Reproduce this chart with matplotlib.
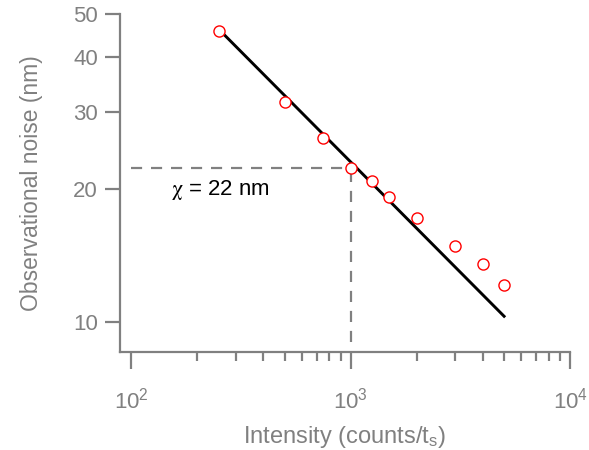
import numpy as np
import matplotlib.pyplot as plt

plt.rcParams['font.family'] = ['Liberation Sans', 'DejaVu Sans']
plt.rcParams['mathtext.fontset'] = 'stix'

# measured noise vs intensity
intensity = [250, 500, 750, 1000, 1250, 1500, 2000, 3000, 4000, 5000]
noise = [45.8, 31.6, 26.2, 22.3, 20.9, 19.2, 17.2, 14.9, 13.5, 12.1]

# fitted line end points
fit_x = [250, 5000]
fit_y = [46.2, 10.3]

# chosen operating point
chi_x = 1000
chi_y = 22.3

grey = '#808080'

fig = plt.figure(figsize=(5.89, 4.5), dpi=100)
ax = fig.add_axes([0.204, 0.218, 0.764, 0.751])
ax.set_xscale('log')
ax.set_yscale('log')

ax.plot([100, chi_x], [chi_y, chi_y], '--', color=grey, lw=1.6, dashes=(5, 4))
ax.plot([chi_x, chi_x], [9.0, chi_y], '--', color=grey, lw=1.6, dashes=(5, 4))
ax.plot(fit_x, fit_y, color='black', lw=2.1)
ax.plot(intensity, noise, 'o', mfc='white', mec='red', ms=8, mew=1.0)

ax.text(152, 19.9, r'$\mathrm{\chi}$ = 22 nm', fontsize=16, va='center', ha='left')

ax.set_xlim(89, 10000)
ax.set_ylim(8.55, 50)

ax.set_yticks([10, 20, 30, 40, 50])
ax.set_yticklabels(['10', '20', '30', '40', '50'])
ax.yaxis.set_minor_locator(plt.NullLocator())
minors = [m * d for d in (100, 1000) for m in range(2, 10)]
ax.xaxis.set_minor_locator(plt.FixedLocator(minors))

for s in ['top', 'right']:
    ax.spines[s].set_visible(False)
for s in ['left', 'bottom']:
    ax.spines[s].set_color(grey)
    ax.spines[s].set_linewidth(1.6)

ax.tick_params(axis='both', which='major', direction='out', color=grey,
               labelcolor=grey, labelsize=16, width=1.6, length=12)
ax.tick_params(axis='x', which='major', pad=14)
ax.tick_params(axis='y', which='major', length=11, pad=5)
ax.tick_params(axis='x', which='minor', direction='out', color=grey,
               width=1.6, length=6.5)

ax.set_xlabel('Intensity (counts/t$_\\mathregular{s}$)', color=grey, fontsize=17, labelpad=7)
ax.set_ylabel('Observational noise (nm)', color=grey, fontsize=16.5, labelpad=22)

fig.savefig('out.png', dpi=100)
